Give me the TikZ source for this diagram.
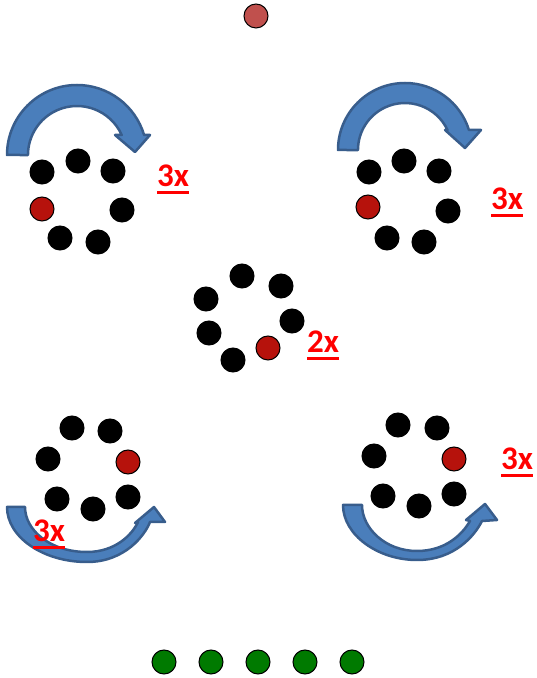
\documentclass[tikz,border=0pt]{standalone}
\usepackage{fontspec}
\setmainfont{Carlito}
\definecolor{dotred}{RGB}{182,18,12}
\definecolor{topred}{RGB}{192,80,77}
\definecolor{dotgreen}{RGB}{0,122,0}
\definecolor{arrfill}{RGB}{74,126,187}
\definecolor{arrdraw}{RGB}{56,93,140}
\definecolor{lblred}{RGB}{255,0,0}
\newcommand\redul[1]{\setbox0\hbox{#1}\rlap{\copy0}\rule[-7pt]{\wd0}{2.8pt}}
\begin{document}
\begin{tikzpicture}[x=1pt,y=1pt,
  dotbase/.style={circle,inner sep=0pt,minimum size=24pt,draw=black,line width=1pt},
  blackdot/.style={dotbase,fill=black},
  reddot/.style={dotbase,fill=dotred},
  topdot/.style={dotbase,fill=topred},
  greendot/.style={dotbase,fill=dotgreen},
  lbl/.style={anchor=base,inner sep=0pt,text=lblred,font=\fontsize{33}{38}\selectfont\bfseries},
  band/.style={fill=arrfill,draw=arrdraw,line width=2.5pt,line join=round}]
\useasboundingbox (0,0) rectangle (537,678);

% top dot
\node[topdot] (top) at (256,662) {};

% arrows
\draw[band] (7,523) arc[start angle=180,end angle=16.6,radius=70]
  -- (150,543) -- (135,526) -- (115,543) -- (121.7,543)
  arc[start angle=24.1,end angle=180,radius=49] -- cycle;
\draw[band] (338,528) arc[start angle=180,end angle=17.4,radius=67]
  -- (481,548) -- (465,530) -- (445,548) -- (447.5,548)
  arc[start angle=25.2,end angle=180,radius=47] -- cycle;
\draw[band] (7,171) .. controls (7,141) and (43,116) .. (87,116)
  .. controls (125,116) and (145,143) .. (150,156)
  -- (165,156) -- (154,171) -- (135,155) -- (138,156)
  .. controls (132,143) and (115,126) .. (87,126)
  .. controls (50,126) and (25,148) .. (25,171) -- cycle;
\draw[band] (343,173) .. controls (343,143) and (378,118) .. (417,118)
  .. controls (455,118) and (475,143) .. (482,157)
  -- (497,158) -- (485,174) -- (466,158) -- (470,157)
  .. controls (462,143) and (445,127) .. (417,127)
  .. controls (385,127) and (362,150) .. (362,173) -- cycle;

% top-left group
\node[blackdot] (a1) at (78,517) {};
\node[blackdot] (a2) at (42,506) {};
\node[blackdot] (a3) at (113,507) {};
\node[reddot]   (a4) at (42,469) {};
\node[blackdot] (a5) at (122,468) {};
\node[blackdot] (a6) at (60,440) {};
\node[blackdot] (a7) at (98,436) {};
\node[lbl] (la) at (173,491) {\redul{3x}};

% top-right group
\node[blackdot] (b1) at (404,517) {};
\node[blackdot] (b2) at (369,506) {};
\node[blackdot] (b3) at (439,507) {};
\node[reddot]   (b4) at (368,471) {};
\node[blackdot] (b5) at (448,467) {};
\node[blackdot] (b6) at (387,440) {};
\node[blackdot] (b7) at (424,436) {};
\node[lbl] (lb) at (507,468) {\redul{3x}};

% middle group
\node[blackdot] (c1) at (242,402) {};
\node[blackdot] (c2) at (281,392) {};
\node[blackdot] (c3) at (206,379) {};
\node[blackdot] (c4) at (292,357) {};
\node[blackdot] (c5) at (209,345) {};
\node[reddot]   (c6) at (268,330) {};
\node[blackdot] (c7) at (233,318) {};
\node[lbl] (lc) at (323,325) {\redul{2x}};

% bottom-left group
\node[blackdot] (d1) at (72,250) {};
\node[blackdot] (d2) at (110,247) {};
\node[blackdot] (d3) at (48,219) {};
\node[reddot]   (d4) at (128,216) {};
\node[blackdot] (d5) at (57,179) {};
\node[blackdot] (d6) at (93,169) {};
\node[blackdot] (d7) at (128,181) {};
\node[lbl] (ld) at (49,136) {\redul{3x}};

% bottom-right group
\node[blackdot] (e1) at (398,253) {};
\node[blackdot] (e2) at (437,250) {};
\node[blackdot] (e3) at (374,222) {};
\node[reddot]   (e4) at (454,219) {};
\node[blackdot] (e5) at (383,182) {};
\node[blackdot] (e6) at (419,172) {};
\node[blackdot] (e7) at (454,184) {};
\node[lbl] (le) at (517,208) {\redul{3x}};

% green dots
\node[greendot] (g1) at (164,16) {};
\node[greendot] (g2) at (211,16) {};
\node[greendot] (g3) at (258,16) {};
\node[greendot] (g4) at (305,16) {};
\node[greendot] (g5) at (352,16) {};
\end{tikzpicture}
\end{document}
